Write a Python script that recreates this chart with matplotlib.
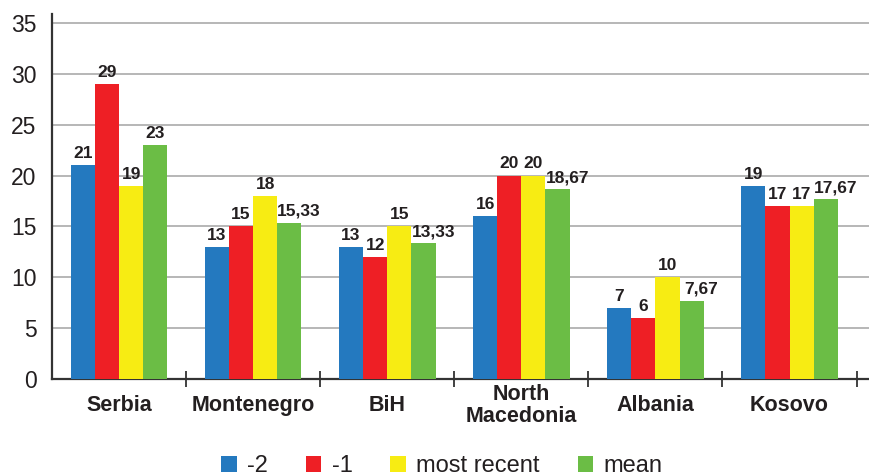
import matplotlib
matplotlib.use("Agg")
import matplotlib.pyplot as plt
import numpy as np

plt.rcParams['font.family'] = ['Liberation Sans', 'DejaVu Sans']

categories = ["Serbia", "Montenegro", "BiH", "North\nMacedonia", "Albania", "Kosovo"]
series_names = ["-2", "-1", "most recent", "mean"]
v_minus2 = [21, 13, 13, 16, 7, 19]
v_minus1 = [29, 15, 12, 20, 6, 17]
v_recent = [19, 18, 15, 20, 10, 17]
v_mean = [23, 15.33, 13.33, 18.67, 7.67, 17.67]
yticks = [0, 5, 10, 15, 20, 25, 30, 35]

colors = ["#2479BF", "#EE1F25", "#F7EC13", "#6BBD45"]
series = [v_minus2, v_minus1, v_recent, v_mean]

fig = plt.figure(figsize=(8.7, 4.76), dpi=100)
ax = fig.add_axes([52/870, 1-379/476, 1-52/870, (379-14)/476])

x = np.arange(len(categories))
w = 0.18
for i, (vals, c, name) in enumerate(zip(series, colors, series_names)):
    pos = x + (i - 1.5) * w
    ax.bar(pos, vals, width=w, color=c, label=name, zorder=3, linewidth=0)
    for p, v in zip(pos, vals):
        if float(v).is_integer():
            txt = f"{int(v)}"
            dx = 0
        else:
            txt = f"{v:.2f}".replace(".", ",")
            dx = 7
        ax.annotate(txt, (p, v), xytext=(dx, 3), textcoords="offset points",
                    ha="center", va="bottom", fontsize=12.5, fontweight="bold",
                    color="#231F20", zorder=4)

ax.set_ylim(0, 35.9)
ax.set_xlim(-0.5, 5.6)
ax.set_yticks(yticks)
ax.set_yticklabels([str(t) for t in yticks], fontsize=16.5, color="#231F20")
ax.yaxis.grid(True, color="#AAAAAA", linewidth=1.2, zorder=0)
ax.set_axisbelow(True)

ax.set_xticks(x)
ax.set_xticklabels(categories, fontsize=15.5, fontweight="bold", color="#231F20",
                   linespacing=1.05)
for t in ax.get_xticklabels():
    t.set_va("center")
ax.tick_params(axis="x", which="major", length=0, pad=19)
ax.set_xticks(np.arange(0.5, 5.6, 1.0), minor=True)
ax.tick_params(axis="x", which="minor", direction="inout", length=12, width=1.3,
               color="#333333")
ax.tick_params(axis="y", length=0, pad=11)

for s in ["top", "right"]:
    ax.spines[s].set_visible(False)
for s in ["left", "bottom"]:
    ax.spines[s].set_color("#333333")
    ax.spines[s].set_linewidth(1.6)

fig.legend(loc="center", bbox_to_anchor=(0.508, 0.021), ncol=4, frameon=False,
           fontsize=17, handlelength=0.65, handleheight=0.65, handletextpad=0.45,
           columnspacing=1.6, labelcolor="#231F20")

fig.savefig("out.png", dpi=100)
